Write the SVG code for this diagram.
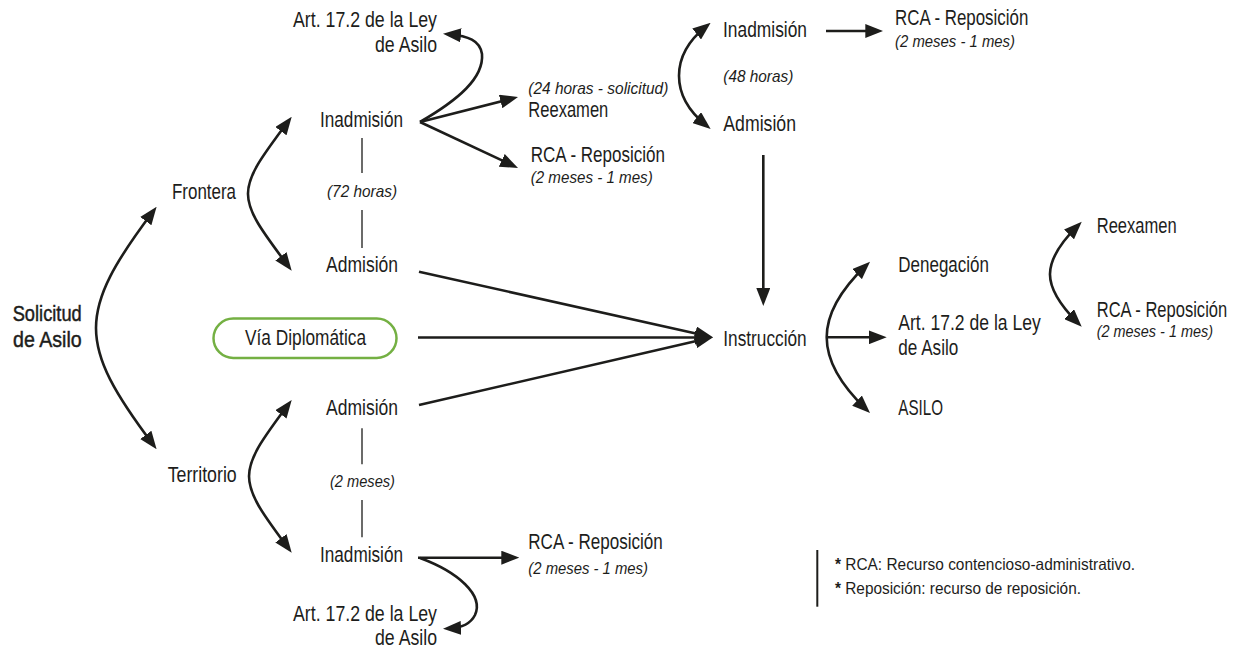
<svg xmlns="http://www.w3.org/2000/svg" width="1238" height="649" viewBox="0 0 1238 649">
<defs>
<style>
text{font-family:"Liberation Sans",Arial,sans-serif;fill:#1d1d1b}
.t{font-size:22px}
.i{font-size:17px;font-style:italic}
.lg{font-size:16.5px}
.b{stroke:#1d1d1b;stroke-width:0.45}
.c{fill:none;stroke:#1d1d1b;stroke-width:2.6}
.a{marker-end:url(#ah)}
.a2{marker-start:url(#ah);marker-end:url(#ah)}
.thin{fill:none;stroke:#1d1d1b;stroke-width:1.3}
</style>
<marker id="ah" viewBox="0 0 18 14" refX="12" refY="7" markerWidth="18" markerHeight="14" markerUnits="userSpaceOnUse" orient="auto-start-reverse"><path d="M0,0 L18,7 L0,14 z" fill="#1d1d1b"/></marker>
</defs>
<rect width="1238" height="649" fill="#ffffff"/>

<g id="connectors">
<path class="c a2" d="M153,211.5 C77,312.5 77,343.5 153,444.5"/>
<path class="c a2" d="M288.1,121.5 C234.6,192.8 234.6,194.6 288.1,265.9"/>
<path class="c a2" d="M288.1,404.8 C236,474.3 236,478.4 288.1,547.9"/>
<path class="c a2" d="M706,26.5 C670,55.5 670,96 706,125.2"/>
<path class="c a2" d="M865.7,265.8 C813.7,315.8 813.7,358.9 865.7,408.9"/>
<path class="c a2" d="M1077.5,225.9 C1040.8,262.6 1040.8,285.8 1077.5,322.5"/>
<path class="c a" d="M420,122 C458,100 484,78 482,54 C480,40 468,36 449,34.2"/>
<path class="c a" d="M420,558 C458,572 484,595 475,615 C470,625 460,628 449,628.5"/>
<path class="c a" d="M420,122 L512.2,98.5"/>
<path class="c a" d="M420,122 L512.6,165.4"/>
<path class="c a" d="M826,31 L877.3,31"/>
<path class="c a" d="M763.3,155 L763.3,300"/>
<path class="c a" d="M419,271.7 L707.1,336"/>
<path class="c a" d="M418,337.5 L707,337.5"/>
<path class="c a" d="M419,405 L707.2,338.6"/>
<path class="c a" d="M826.7,337.3 L880.7,337.3"/>
<path class="c a" d="M418,557.7 L513.3,557.7"/>
<path class="thin" d="M362,138 V173 M362,210 V248 M362,428.3 V464.3 M362,500 V537.3"/>
</g>

<g id="solicitud"><text class="t b" x="12.7" y="320.7" textLength="69" lengthAdjust="spacingAndGlyphs">Solicitud</text><text class="t b" x="13" y="346.7" textLength="68.7" lengthAdjust="spacingAndGlyphs">de Asilo</text></g>
<g id="frontera"><text class="t" x="172" y="199" textLength="64" lengthAdjust="spacingAndGlyphs">Frontera</text></g>
<g id="territorio"><text class="t" x="167.7" y="482.3" textLength="69" lengthAdjust="spacingAndGlyphs">Territorio</text></g>
<g id="via-diplomatica"><rect x="213.5" y="318.5" width="183" height="39.5" rx="19.75" fill="#ffffff" stroke="#74b043" stroke-width="2.5"/><text class="t" x="245" y="345" textLength="121" lengthAdjust="spacingAndGlyphs">Vía Diplomática</text></g>

<g id="f-inadmision"><text class="t" x="320" y="126.7" textLength="83" lengthAdjust="spacingAndGlyphs">Inadmisión</text></g>
<g id="f-72h"><text class="i" x="327" y="197" textLength="70" lengthAdjust="spacingAndGlyphs">(72 horas)</text></g>
<g id="f-admision"><text class="t" x="326" y="271.7" textLength="72" lengthAdjust="spacingAndGlyphs">Admisión</text></g>
<g id="f-art172"><text class="t" x="293" y="26.7" textLength="144" lengthAdjust="spacingAndGlyphs">Art. 17.2 de la Ley</text><text class="t" x="375" y="51.5" textLength="62" lengthAdjust="spacingAndGlyphs">de Asilo</text></g>
<g id="f-reexamen"><text class="i" x="528.3" y="94.3" textLength="140" lengthAdjust="spacingAndGlyphs">(24 horas - solicitud)</text><text class="t" x="528.3" y="116.5" textLength="80" lengthAdjust="spacingAndGlyphs">Reexamen</text></g>
<g id="f-rca"><text class="t" x="530.7" y="161.5" textLength="134.3" lengthAdjust="spacingAndGlyphs">RCA - Reposición</text><text class="i" x="530.7" y="183.3" textLength="122" lengthAdjust="spacingAndGlyphs">(2 meses - 1 mes)</text></g>

<g id="r-inadmision"><text class="t" x="723" y="37.3" textLength="84" lengthAdjust="spacingAndGlyphs">Inadmisión</text></g>
<g id="r-48h"><text class="i" x="723.3" y="81.7" textLength="70" lengthAdjust="spacingAndGlyphs">(48 horas)</text></g>
<g id="r-admision"><text class="t" x="723.3" y="131" textLength="72.7" lengthAdjust="spacingAndGlyphs">Admisión</text></g>
<g id="r-rca"><text class="t" x="895" y="25" textLength="133.3" lengthAdjust="spacingAndGlyphs">RCA - Reposición</text><text class="i" x="895" y="46.7" textLength="120" lengthAdjust="spacingAndGlyphs">(2 meses - 1 mes)</text></g>

<g id="instruccion"><text class="t" x="723.3" y="345.7" textLength="83.4" lengthAdjust="spacingAndGlyphs">Instrucción</text></g>
<g id="denegacion"><text class="t" x="898.3" y="271.7" textLength="90.7" lengthAdjust="spacingAndGlyphs">Denegación</text></g>
<g id="i-art172"><text class="t" x="898.3" y="330" textLength="142.4" lengthAdjust="spacingAndGlyphs">Art. 17.2 de la Ley</text><text class="t" x="898.3" y="355" textLength="60" lengthAdjust="spacingAndGlyphs">de Asilo</text></g>
<g id="asilo"><text class="t" x="898.3" y="415" textLength="44.7" lengthAdjust="spacingAndGlyphs">ASILO</text></g>
<g id="d-reexamen"><text class="t" x="1096.7" y="233.3" textLength="80" lengthAdjust="spacingAndGlyphs">Reexamen</text></g>
<g id="d-rca"><text class="t" transform="translate(1096.7,316.7) scale(0.752,1)">RCA - Reposición</text><text class="i" transform="translate(1096.7,336.7) scale(0.85,1)">(2 meses - 1 mes)</text></g>

<g id="t-admision"><text class="t" x="326" y="415" textLength="72" lengthAdjust="spacingAndGlyphs">Admisión</text></g>
<g id="t-2meses"><text class="i" x="330" y="486.7" textLength="65" lengthAdjust="spacingAndGlyphs">(2 meses)</text></g>
<g id="t-inadmision"><text class="t" x="320" y="561.7" textLength="83" lengthAdjust="spacingAndGlyphs">Inadmisión</text></g>
<g id="t-rca"><text class="t" x="528.3" y="549.3" textLength="134.4" lengthAdjust="spacingAndGlyphs">RCA - Reposición</text><text class="i" x="528.3" y="574" textLength="119.7" lengthAdjust="spacingAndGlyphs">(2 meses - 1 mes)</text></g>
<g id="t-art172"><text class="t" x="293" y="620.7" textLength="144" lengthAdjust="spacingAndGlyphs">Art. 17.2 de la Ley</text><text class="t" x="375" y="645" textLength="62" lengthAdjust="spacingAndGlyphs">de Asilo</text></g>

<g id="legend">
<rect x="816.3" y="550" width="2" height="56.7" fill="#1d1d1b"/>
<text class="lg" x="835" y="570" textLength="300" lengthAdjust="spacingAndGlyphs"><tspan font-weight="bold">*</tspan> RCA: Recurso contencioso-administrativo.</text>
<text class="lg" x="835" y="594.3" textLength="246" lengthAdjust="spacingAndGlyphs"><tspan font-weight="bold">*</tspan> Reposición: recurso de reposición.</text>
</g>
</svg>
